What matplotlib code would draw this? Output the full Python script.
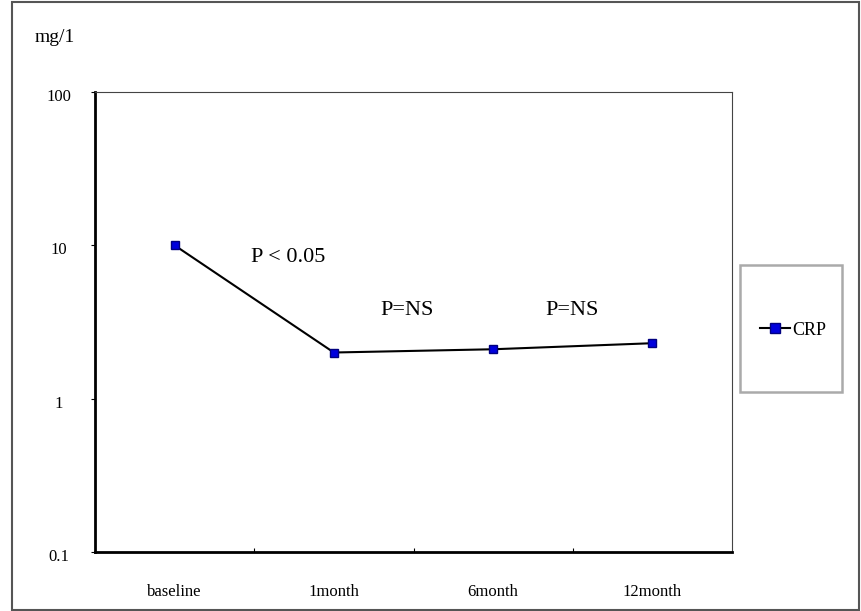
import matplotlib.pyplot as plt
from matplotlib.patches import Rectangle
from matplotlib.transforms import blended_transform_factory, offset_copy

plt.rcParams['font.family'] = ['Liberation Serif', 'DejaVu Serif']

categories = ['baseline', '1month', '6month', '12month']
crp = [10.0, 2.0, 2.1, 2.3]
y_ticks = [0.1, 1, 10, 100]
y_labels = ['0.1', '1', '10', '100']

W, H = 861, 611
fig = plt.figure(figsize=(W / 100, H / 100), dpi=100)

# outer frame of the picture
fig.patches.append(Rectangle((12 / W, 1 / H), (859 - 12) / W, (609 - 1) / H,
                             transform=fig.transFigure, fill=False,
                             edgecolor='#555555', linewidth=1.5))
# legend box
fig.patches.append(Rectangle((740 / W, 1 - 392 / H), 102 / W, 127 / H,
                             transform=fig.transFigure, fill=False,
                             edgecolor='#aaaaaa', linewidth=1.8))

ax = fig.add_axes([95 / W, 1 - 552 / H, (732 - 95) / W, (552 - 92) / H])
x = range(len(categories))
ax.plot(x, crp, color='black', linewidth=1.5, marker='s', markersize=6,
        markerfacecolor='#0000dd', markeredgecolor='#000080', label='CRP')

ax.set_yscale('log')
ax.set_ylim(0.1, 100)
ax.set_yticks(y_ticks)
ax.set_yticklabels([])
ax.minorticks_off()
ax.set_xlim(-0.5, 3.5)
ax.set_xticks([0.5, 1.5, 2.5])
ax.set_xticklabels([])
ax.tick_params(axis='x', direction='in', length=3, width=0.8)
ax.tick_params(axis='y', direction='out', length=3, width=0.8)
for i, c in enumerate(categories):
    ax.text(i, -0.07, c, transform=ax.get_xaxis_transform(), ha='center', va='top', fontsize=12)
ylab_tr = offset_copy(blended_transform_factory(fig.transFigure, ax.transData),
                      fig=fig, y=-5, units='dots')
for v, lab in zip(y_ticks, y_labels):
    ax.text(59 / W, v, lab, transform=ylab_tr, ha='center', va='center', fontsize=12)

for side in ['left', 'bottom']:
    ax.spines[side].set_linewidth(2)
for side in ['top', 'right']:
    ax.spines[side].set_linewidth(0.8)
    ax.spines[side].set_color('#444444')

ax.text(0.71, 8.3, 'P < 0.05', ha='center', va='center', fontsize=16)
ax.text(1.46, 3.76, 'P=NS', ha='center', va='center', fontsize=16)
ax.text(2.495, 3.76, 'P=NS', ha='center', va='center', fontsize=16)

fig.text(35 / W, 1 - 38 / H, 'mg/1', ha='left', va='center', fontsize=14)

fig.legend(loc='center', bbox_to_anchor=(793 / W, 1 - 330 / H), fontsize=13,
           frameon=False, handlelength=1.7, handletextpad=0.1, markerscale=1.3,
           borderpad=0, borderaxespad=0)

fig.savefig('out.png', dpi=100)
